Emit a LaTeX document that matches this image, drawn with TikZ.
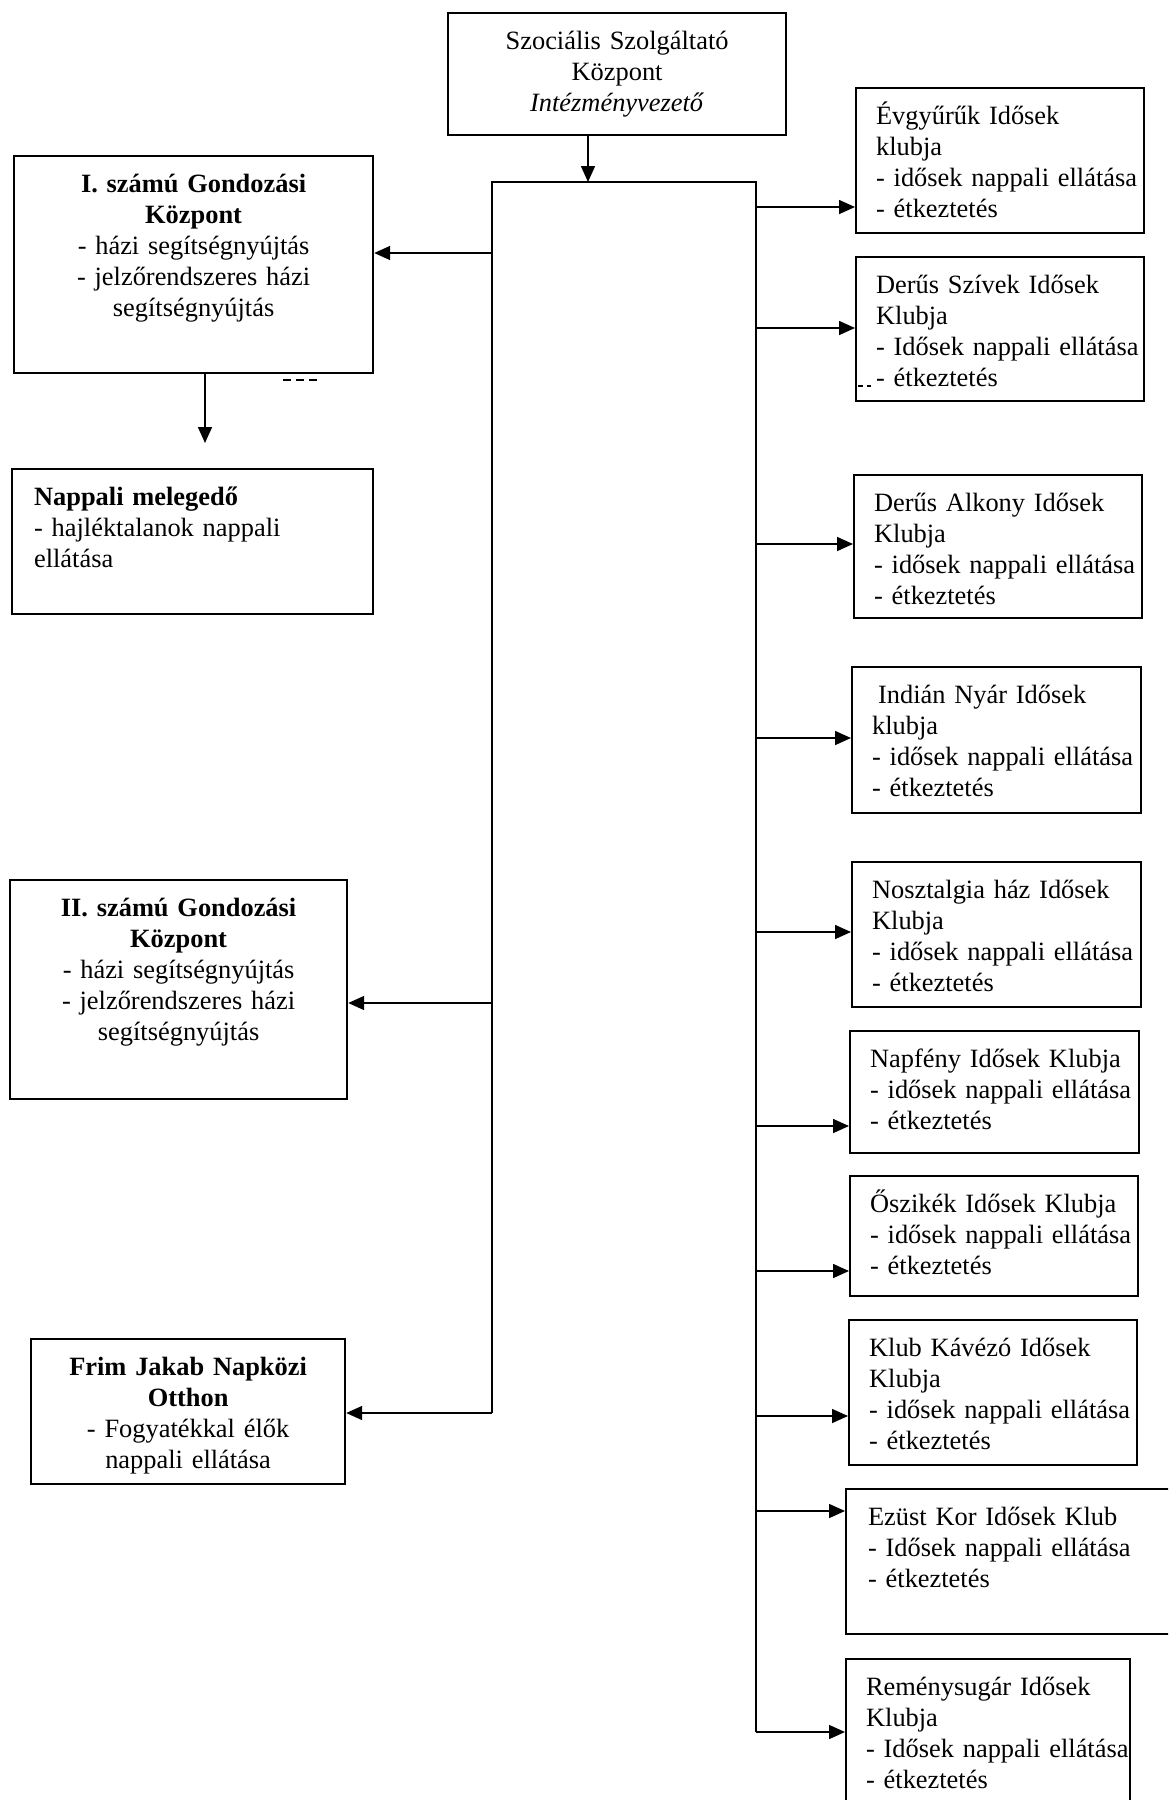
\documentclass[tikz,border=0pt]{standalone}
\usepackage{fontspec}
\setmainfont{Liberation Serif}
\usetikzlibrary{arrows.meta}

\tikzset{
  box/.style={draw, line width=1.1pt, anchor=north west, inner xsep=0pt, inner ysep=0pt,
    text height=18pt, font=\fontsize{13.2}{15.5}\selectfont},
  mid/.style={box, align=center},
  lft/.style={box, align=left, execute at begin node={\leftskip=#1}},
  lft/.default=10pt,
  arr/.style={line width=0.8pt, -{Triangle[length=8pt,width=7pt]}},
  trunk/.style={line width=0.8pt}
}

\begin{document}
\begin{tikzpicture}[x=0.5pt, y=-0.5pt]
\useasboundingbox (0,0) rectangle (1168,1800);
\clip (0,0) rectangle (1168,1800);

% vezeto
\node[mid, text width=169pt, text depth=43pt] (szszk) at (447,12) {Szociális Szolgáltató\\Központ\\\textit{Intézményvezető}};

% bal oldali egysegek
\node[mid, text width=179.5pt, text depth=90.5pt] (gk1) at (13,155) {\textbf{I. számú Gondozási}\\\textbf{Központ}\\- házi segítségnyújtás\\- jelzőrendszeres házi\\segítségnyújtás};
\node[lft=11pt, text width=180.5pt, text depth=54.5pt] (mel) at (11,468) {\textbf{Nappali melegedő}\\- hajléktalanok nappali\\ellátása};
\node[mid, text width=168.5pt, text depth=91.5pt] (gk2) at (9,879) {\textbf{II. számú Gondozási}\\\textbf{Központ}\\- házi segítségnyújtás\\- jelzőrendszeres házi\\segítségnyújtás};
\node[mid, text width=157pt, text depth=54.5pt] (frim) at (30,1338) {\textbf{Frim Jakab Napközi}\\\textbf{Otthon}\\- Fogyatékkal élők\\nappali ellátása};

% jobb oldali klubok
\node[lft, text width=144pt, text depth=54.5pt] (evgy) at (855,87) {Évgyűrűk Idősek\\klubja\\- idősek nappali ellátása\\- étkeztetés};
\node[lft, text width=144pt, text depth=54pt] (dszv) at (855,256) {Derűs Szívek Idősek\\Klubja\\- Idősek nappali ellátása\\- étkeztetés};
\node[lft, text width=144pt, text depth=53.5pt] (dalk) at (853,474) {Derűs Alkony Idősek\\Klubja\\- idősek nappali ellátása\\- étkeztetés};
\node[lft, text width=144.5pt, text depth=55pt] (indn) at (851,666) {\hspace*{3pt}Indián Nyár Idősek\\klubja\\- idősek nappali ellátása\\- étkeztetés};
\node[lft, text width=144.5pt, text depth=54.5pt] (nosz) at (851,861) {Nosztalgia ház Idősek\\Klubja\\- idősek nappali ellátása\\- étkeztetés};
\node[lft, text width=144.5pt, text depth=43pt] (napf) at (849,1030) {Napfény Idősek Klubja\\- idősek nappali ellátása\\- étkeztetés};
\node[lft, text width=144pt, text depth=42pt] (oszk) at (849,1175) {Őszikék Idősek Klubja\\- idősek nappali ellátása\\- étkeztetés};
\node[lft, text width=144pt, text depth=54.5pt] (klub) at (848,1319) {Klub Kávézó Idősek\\Klubja\\- idősek nappali ellátása\\- étkeztetés};
\node[lft=11pt, text width=175pt, text depth=54.5pt] (ezst) at (845,1488) {Ezüst Kor Idősek Klub\\- Idősek nappali ellátása\\- étkeztetés};
\node[lft, text width=142pt, text depth=58pt] (remy) at (845,1658) {Reménysugár Idősek\\Klubja\\- Idősek nappali ellátása\\- étkeztetés};

% gerinc
\coordinate (tj) at (588,182);
\coordinate (tl) at (492,182);
\coordinate (tr) at (756,182);
\coordinate (lb) at (492,1413);
\coordinate (rb) at (756,1732);
\draw[arr] (szszk.south -| tj) -- (tj);
\draw[trunk] (lb) -- (tl) -- (tr) -- (rb);

% bal nyilak
\coordinate (l1) at (492,253);
\coordinate (l2) at (492,1003);
\coordinate (mt) at (205,443);
\draw[arr] (l1) -- (l1 -| gk1.east);
\draw[arr] (l2) -- (l2 -| gk2.east);
\draw[arr] (lb) -- (lb -| frim.east);
\draw[arr] (gk1.south -| mt) -- (mt);

% jobb nyilak
\coordinate (r1) at (756,207);
\coordinate (r2) at (756,328);
\coordinate (r3) at (756,544);
\coordinate (r4) at (756,738);
\coordinate (r5) at (756,932);
\coordinate (r6) at (756,1126);
\coordinate (r7) at (756,1271);
\coordinate (r8) at (756,1416);
\coordinate (r9) at (756,1511);
\draw[arr] (r1) -- (r1 -| evgy.west);
\draw[arr] (r2) -- (r2 -| dszv.west);
\draw[arr] (r3) -- (r3 -| dalk.west);
\draw[arr] (r4) -- (r4 -| indn.west);
\draw[arr] (r5) -- (r5 -| nosz.west);
\draw[arr] (r6) -- (r6 -| napf.west);
\draw[arr] (r7) -- (r7 -| oszk.west);
\draw[arr] (r8) -- (r8 -| klub.west);
\draw[arr] (r9) -- (r9 -| ezst.west);
\draw[arr] (rb) -- (rb -| remy.west);

% apro jelek
\draw[line width=0.8pt, dash pattern=on 4pt off 2.5pt] (283,380) -- (317,380);
\draw[line width=0.6pt, dash pattern=on 2.5pt off 2pt] (858,386) -- (871,386);
\end{tikzpicture}
\end{document}
